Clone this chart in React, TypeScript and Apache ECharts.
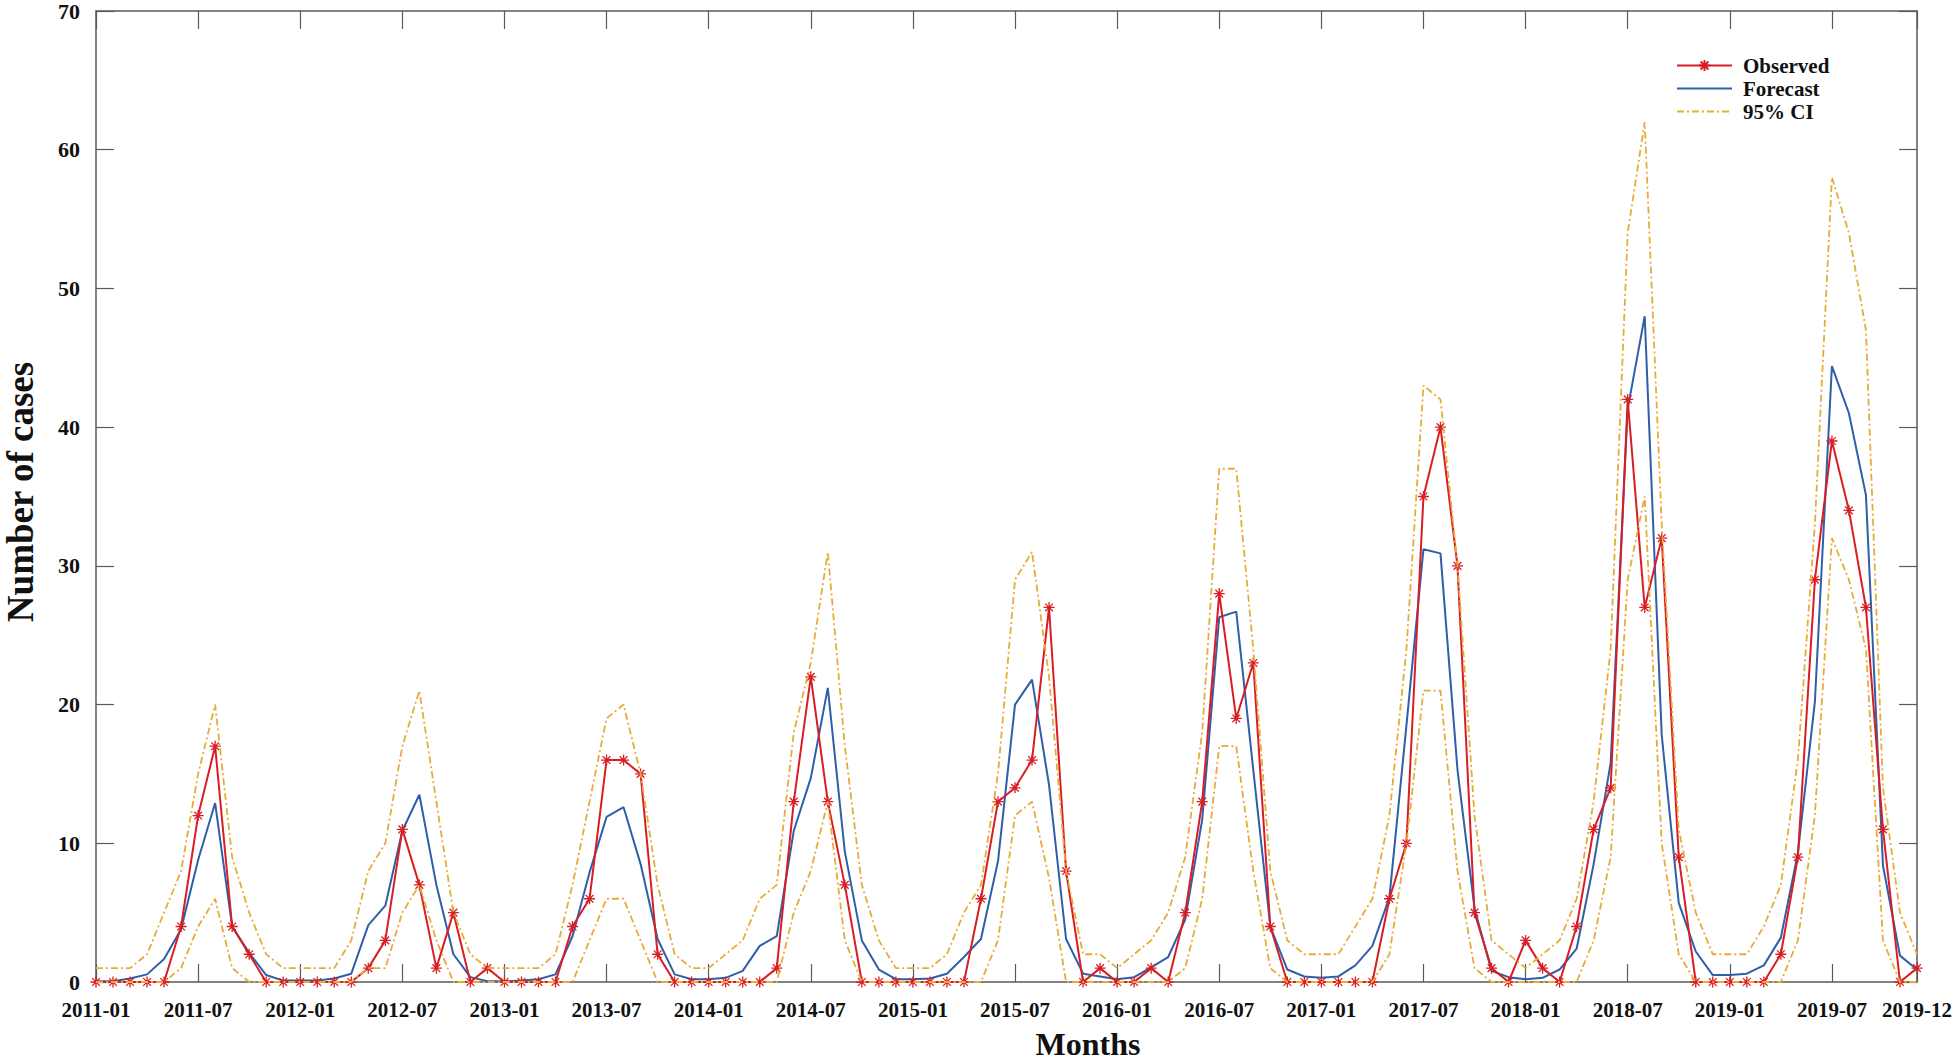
import React, { useEffect, useRef } from "react";
import * as echarts from "echarts";

// Months 2011-01 .. 2019-12
const months: string[] = [];
for (let y = 2011; y <= 2019; y++) {
  for (let m = 1; m <= 12; m++) months.push(`${y}-${String(m).padStart(2, "0")}`);
}

const observed = [
  0, 0, 0, 0, 0, 4, 12, 17, 4, 2,
  0, 0, 0, 0, 0, 0, 1, 3, 11, 7,
  1, 5, 0, 1, 0, 0, 0, 0, 4, 6,
  16, 16, 15, 2, 0, 0, 0, 0, 0, 0,
  1, 13, 22, 13, 7, 0, 0, 0, 0, 0,
  0, 0, 6, 13, 14, 16, 27, 8, 0, 1,
  0, 0, 1, 0, 5, 13, 28, 19, 23, 4,
  0, 0, 0, 0, 0, 0, 6, 10, 35, 40,
  30, 5, 1, 0, 3, 1, 0, 4, 11, 14,
  42, 27, 32, 9, 0, 0, 0, 0, 0, 2,
  9, 29, 39, 34, 27, 11, 0, 1,
];

const forecast = [
  0.05, 0.05, 0.25, 0.55, 1.65, 3.8, 8.8, 12.9, 4.0, 2.1,
  0.5, 0.1, 0.1, 0.1, 0.25, 0.6, 4.1, 5.5, 10.9, 13.5,
  7.0, 2.0, 0.35, 0.05, 0.05, 0.1, 0.2, 0.55, 3.3, 7.9,
  11.9, 12.6, 8.5, 3.1, 0.55, 0.2, 0.2, 0.3, 0.8, 2.6,
  3.3, 10.9, 14.7, 21.2, 9.4, 3.0, 0.9, 0.2, 0.2, 0.25,
  0.6, 1.8, 3.1, 8.7, 20.0, 21.8, 14.2, 3.1, 0.6, 0.4,
  0.2, 0.35, 1.05, 1.8, 4.5, 11.7, 26.3, 26.7, 15.3, 4.0,
  0.9, 0.4, 0.3, 0.4, 1.2, 2.6, 6.1, 18.5, 31.2, 30.9,
  15.3, 5.3, 0.8, 0.35, 0.2, 0.3, 0.9, 2.4, 8.5, 15.8,
  41.3, 48.0, 17.8, 5.7, 2.2, 0.5, 0.5, 0.6, 1.2, 3.2,
  9.3, 20.2, 44.4, 41.0, 35.1, 8.4, 1.9, 0.9,
];

const ciUpper = [
  1, 1, 1, 2, 5, 8, 15, 20, 9, 5,
  2, 1, 1, 1, 1, 3, 8, 10, 17, 21,
  13, 5, 2, 1, 1, 1, 1, 2, 7, 13,
  19, 20, 15, 7, 2, 1, 1, 2, 3, 6,
  7, 18, 23, 31, 17, 7, 3, 1, 1, 1,
  2, 5, 7, 15, 29, 31, 22, 8, 2, 2,
  1, 2, 3, 5, 9, 18, 37, 37, 24, 8,
  3, 2, 2, 2, 4, 6, 12, 24, 43, 42,
  30, 12, 3, 2, 1, 2, 3, 6, 13, 24,
  54, 62, 33, 11, 5, 2, 2, 2, 4, 7,
  16, 33, 58, 54, 47, 14, 5, 2,
];

const ciLower = [
  0, 0, 0, 0, 0, 1, 4, 6, 1, 0,
  0, 0, 0, 0, 0, 0, 1, 1, 5, 7,
  3, 0, 0, 0, 0, 0, 0, 0, 0, 3,
  6, 6, 3, 0, 0, 0, 0, 0, 0, 0,
  0, 5, 8, 13, 3, 0, 0, 0, 0, 0,
  0, 0, 0, 3, 12, 13, 7.5, 0, 0, 0,
  0, 0, 0, 0, 1, 6, 17, 17, 8, 1,
  0, 0, 0, 0, 0, 0, 2, 10, 21, 21,
  8, 1, 0, 0, 0, 0, 0, 0, 3, 9,
  29, 35, 10, 2, 0, 0, 0, 0, 0, 0,
  3, 12, 32, 29, 24, 3, 0, 0,
];

const legendNames = ["Observed", "Forecast", "95% CI"];
const xTitle = "Months";
const yTitle = "Number of cases";

const FONT = '"Liberation Serif", "Times New Roman", "DejaVu Serif", serif';
const RED = "#d81e24";
const BLUE = "#2f5fa8";
const GOLD = "#e9ab38";
const AXIS = "#5a5a5a";
const CI_DASH = [7, 3, 2, 3];

const tickShown = (idx: number) => idx % 6 === 0 || idx === months.length - 1;

const asterisk = "path://M10,0L10,20M0,10L20,10M3,3L17,17M3,17L17,3";

export default function App() {
  const ref = useRef<HTMLDivElement>(null);
  useEffect(() => {
    document.body.style.margin = "0";
    const chart = echarts.init(ref.current!, null, { renderer: "svg" });
    const axisLine = { show: true, onZero: false, lineStyle: { color: AXIS, width: 1.5 } };
    const tickStyle = { color: AXIS, width: 1.2 };
    const hiddenSymbol = { color: "rgba(0,0,0,0)", borderWidth: 0, opacity: 0 };
    chart.setOption({
      animation: false,
      backgroundColor: "#ffffff",
      grid: { left: 96, right: 43, top: 8, bottom: 81, containLabel: false },
      legend: {
        data: [
          { name: legendNames[0] },
          { name: legendNames[1], itemStyle: hiddenSymbol },
          { name: legendNames[2], itemStyle: hiddenSymbol },
        ],
        orient: "vertical",
        left: 1676,
        top: 54,
        padding: 0,
        itemWidth: 55,
        itemHeight: 14,
        itemGap: 0,
        selectedMode: false,
        textStyle: {
          fontFamily: FONT,
          fontWeight: "bold",
          fontSize: 21,
          color: "#111",
          lineHeight: 23,
          padding: [0, 0, 0, 6],
        },
      },
      xAxis: [
        {
          type: "category",
          data: months,
          boundaryGap: false,
          axisLine,
          axisTick: { show: true, inside: true, length: 18, interval: tickShown, lineStyle: tickStyle },
          axisLabel: {
            interval: tickShown,
            fontFamily: FONT,
            fontWeight: "bold",
            fontSize: 21,
            color: "#111",
            margin: 17,
          },
          splitLine: { show: false },
        },
        {
          type: "category",
          data: months,
          position: "top",
          boundaryGap: false,
          axisLine,
          axisTick: { show: true, inside: true, length: 18, interval: tickShown, lineStyle: tickStyle },
          axisLabel: { show: false },
          splitLine: { show: false },
        },
      ],
      yAxis: [
        {
          type: "value",
          min: 0,
          max: 70,
          interval: 10,
          axisLine,
          axisTick: { show: true, inside: true, length: 18, lineStyle: tickStyle },
          axisLabel: {
            fontFamily: FONT,
            fontWeight: "bold",
            fontSize: 22,
            color: "#111",
            margin: 16,
          },
          splitLine: { show: false },
        },
        {
          type: "value",
          min: 0,
          max: 70,
          interval: 10,
          position: "right",
          axisLine,
          axisTick: { show: true, inside: true, length: 18, lineStyle: tickStyle },
          axisLabel: { show: false },
          splitLine: { show: false },
        },
      ],
      series: [
        {
          name: "Observed",
          type: "line",
          data: observed,
          xAxisIndex: 0,
          yAxisIndex: 0,
          symbol: asterisk,
          symbolSize: 11,
          symbolKeepAspect: true,
          showSymbol: true,
          showAllSymbol: true,
          lineStyle: { color: RED, width: 2 },
          itemStyle: { color: RED, borderColor: RED, borderWidth: 1.3 },
          z: 3,
        },
        {
          name: "Forecast",
          type: "line",
          data: forecast,
          xAxisIndex: 0,
          yAxisIndex: 0,
          symbol: "none",
          lineStyle: { color: BLUE, width: 2 },
          itemStyle: { color: BLUE },
          z: 2,
        },
        {
          name: "95% CI",
          type: "line",
          data: ciUpper,
          xAxisIndex: 0,
          yAxisIndex: 0,
          symbol: "none",
          lineStyle: { color: GOLD, width: 1.8, type: CI_DASH },
          itemStyle: { color: GOLD },
          z: 4,
        },
        {
          name: "95% CI",
          type: "line",
          data: ciLower,
          xAxisIndex: 0,
          yAxisIndex: 0,
          symbol: "none",
          lineStyle: { color: GOLD, width: 1.8, type: CI_DASH },
          itemStyle: { color: GOLD },
          z: 4,
        },
      ],
      graphic: [
        {
          type: "text",
          x: 20,
          y: 492,
          rotation: Math.PI / 2,
          style: {
            text: yTitle,
            fill: "#111",
            font: `bold 37px ${FONT}`,
            textAlign: "center",
            textVerticalAlign: "middle",
          },
        },
        {
          type: "text",
          x: 1088,
          y: 1044,
          style: {
            text: xTitle,
            fill: "#111",
            font: `bold 32px ${FONT}`,
            textAlign: "center",
            textVerticalAlign: "middle",
          },
        },
      ],
    });
    return () => chart.dispose();
  }, []);
  return (
    <div
      ref={ref}
      style={{ position: "fixed", left: 0, top: 0, width: 1960, height: 1063 }}
    />
  );
}
